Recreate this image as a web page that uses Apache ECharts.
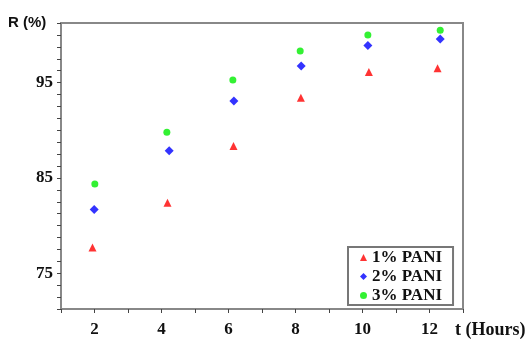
<!DOCTYPE html>
<html>
<head>
<meta charset="utf-8">
<script src="https://cdn.jsdelivr.net/npm/echarts@6/dist/echarts.min.js"></script>
<style>html,body{margin:0;padding:0;background:#fff;}#c{width:530px;height:340px;}</style>
</head>
<body>
<div id="c"></div>
<script>
const hours1 = [1.94, 4.18, 6.15, 8.16, 10.19, 12.24];
const pani1 = [77.7, 82.4, 88.35, 93.4, 96.1, 96.5];
const hours2 = [1.99, 4.23, 6.16, 8.17, 10.16, 12.32];
const pani2 = [81.7, 87.85, 93.06, 96.75, 98.9, 99.57];
const hours3 = [2.01, 4.16, 6.13, 8.14, 10.16, 12.32];
const pani3 = [84.37, 89.8, 95.27, 98.3, 100.0, 100.5];
const seriesNames = ['1% PANI', '2% PANI', '3% PANI'];
const xTickLabels = [2, 4, 6, 8, 10, 12];
const yTickLabels = [75, 85, 95];

const chart = echarts.init(document.getElementById('c'), null, {renderer: 'canvas'});
const pair = (xs, ys) => xs.map((x, i) => [x, ys[i]]);
const serifBold = {fontFamily: 'Liberation Serif', fontWeight: 'bold', fontSize: 17, color: '#111'};

chart.setOption({
  animation: false,
  backgroundColor: '#fff',
  grid: {left: 61, right: 67, top: 23, bottom: 31, show: true, borderColor: '#888', borderWidth: 2, containLabel: false},
  xAxis: {
    type: 'value', min: 1, max: 13, interval: 1,
    axisLine: {show: true, lineStyle: {color: '#888', width: 2}},
    axisTick: {show: true, length: 4, inside: false, lineStyle: {color: '#444', width: 1}},
    splitLine: {show: false},
    axisLabel: Object.assign({margin: 12, formatter: v => xTickLabels.includes(Math.round(v * 100) / 100) ? String(v) : ''}, serifBold)
  },
  yAxis: {
    type: 'value', min: 71.25, max: 101.25, interval: 1.25,
    axisLine: {show: true, lineStyle: {color: '#888', width: 2}},
    axisTick: {show: true, length: 4, inside: false, lineStyle: {color: '#444', width: 1}},
    splitLine: {show: false},
    axisLabel: Object.assign({margin: 8, formatter: v => yTickLabels.includes(Math.round(v * 100) / 100) ? String(v) : ''}, serifBold)
  },
  legend: {
    orient: 'vertical', left: 348, top: 247, width: 107,
    padding: [2, 11, 1, 12], itemGap: 2, itemWidth: 7, itemHeight: 7,
    borderColor: '#777', borderWidth: 2, backgroundColor: '#fff',
    textStyle: {fontFamily: 'Liberation Serif', fontWeight: 'bold', fontSize: 17, color: '#111', lineHeight: 16},
    data: seriesNames
  },
  series: [
    {name: seriesNames[0], type: 'scatter', symbol: 'triangle', symbolSize: 8, itemStyle: {color: '#ff0000'}, data: pair(hours1, pani1)},
    {name: seriesNames[1], type: 'scatter', symbol: 'diamond', symbolSize: 9, itemStyle: {color: '#0000ff'}, data: pair(hours2, pani2)},
    {name: seriesNames[2], type: 'scatter', symbol: 'circle', symbolSize: 7, itemStyle: {color: '#00ee00'}, data: pair(hours3, pani3)}
  ],
  graphic: [
    {type: 'text', left: 8, top: 15, style: {text: 'R (%)', fontFamily: 'Liberation Sans', fontWeight: 'bold', fontSize: 15, fill: '#111'}},
    {type: 'text', left: 455, top: 321, style: {text: 't (Hours)', fontFamily: 'Liberation Serif', fontWeight: 'bold', fontSize: 18, fill: '#111'}}
  ]
});
</script>
</body>
</html>
